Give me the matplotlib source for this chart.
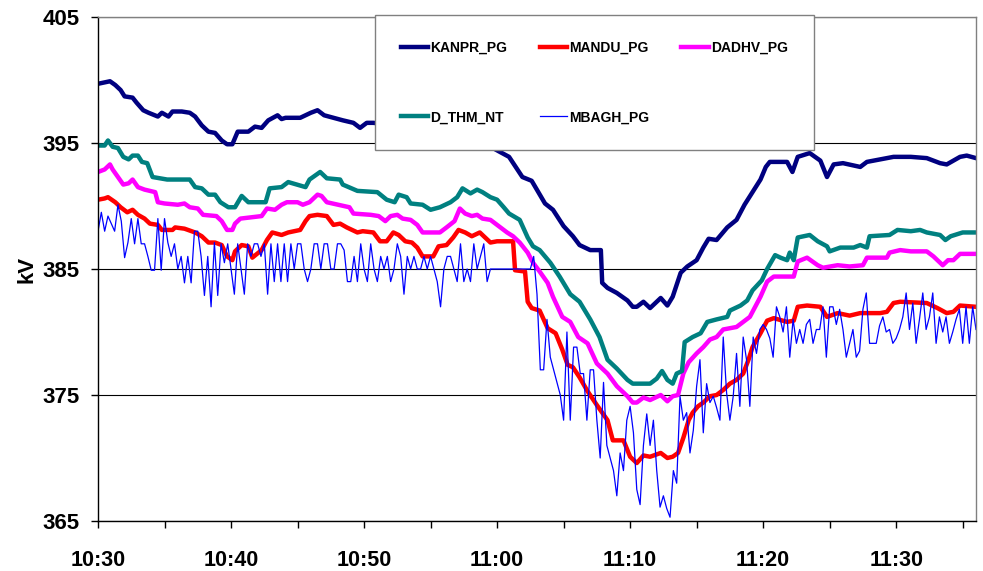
import numpy as np
import matplotlib
matplotlib.use('Agg')
import matplotlib.pyplot as plt
from matplotlib.ticker import FixedLocator, MultipleLocator, FuncFormatter

plt.rcParams['font.family'] = ['Liberation Sans', 'DejaVu Sans']
plt.rcParams['font.weight'] = 'bold'

# time in minutes after 10:30
kanpr_t = [0.0, 0.9, 1.3, 1.7, 2.0, 2.6, 2.9, 3.4, 3.8, 4.5, 4.8, 5.3, 5.6, 6.3, 6.9,
           7.3, 7.8, 8.3, 8.8, 9.3, 9.7, 10.1, 10.5, 11.3, 11.8, 12.3, 12.8, 13.5, 13.8,
           14.1, 15.2, 16.0, 16.5, 17.0, 17.7, 18.4, 19.2, 19.7, 20.2, 20.7, 23.0, 26.0,
           29.0, 30.2, 30.9, 31.9, 32.6, 33.6, 34.2, 35.0, 35.7, 36.2, 37.0, 37.8, 37.9,
           38.3, 39.0, 39.8, 40.2, 40.5, 41.0, 41.5, 42.3, 42.8, 43.2, 43.8, 44.3, 45.0,
           45.5, 45.9, 46.5, 47.3, 48.0, 48.6, 49.2, 49.8, 50.2, 50.5, 51.8, 52.2, 52.6,
           53.5, 54.3, 54.8, 55.3, 56.0, 57.3, 57.8, 59.8, 61.1, 62.3, 63.3, 63.8, 64.8,
           65.3, 66.0]
kanpr_v = [399.7, 399.9, 399.6, 399.2, 398.7, 398.6, 398.2, 397.6, 397.4, 397.1, 397.4,
           397.1, 397.5, 397.5, 397.4, 397.1, 396.4, 395.9, 395.8, 395.2, 394.9, 394.9,
           395.9, 395.9, 396.3, 396.2, 396.8, 397.2, 396.9, 397.0, 397.0, 397.4, 397.6,
           397.2, 397.0, 396.8, 396.6, 396.2, 396.6, 396.6, 396.3, 395.7, 395.0, 394.3,
           393.9, 392.3, 392.0, 390.2, 389.7, 388.4, 387.6, 386.9, 386.5, 386.5, 383.9,
           383.5, 383.1, 382.5, 382.0, 382.0, 382.4, 381.9, 382.7, 382.1, 382.8, 384.7,
           385.2, 385.7, 386.7, 387.4, 387.3, 388.3, 388.9, 390.1, 391.1, 392.1, 393.1,
           393.5, 393.5, 392.7, 393.9, 394.2, 393.6, 392.3, 393.3, 393.4, 393.1, 393.5,
           393.9, 393.9, 393.8, 393.4, 393.3, 393.9, 394.0, 393.8]

mandu_t = [0.0, 0.5, 0.75, 1.3, 1.7, 2.2, 2.6, 3.0, 3.5, 3.9, 4.5, 4.8, 5.6, 5.8, 6.5,
           7.3, 7.8, 8.3, 8.8, 9.3, 9.7, 10.1, 10.3, 10.8, 11.3, 11.6, 12.3, 12.7, 13.1,
           13.8, 14.3, 15.2, 15.6, 15.9, 16.5, 17.2, 17.7, 18.2, 18.7, 19.5, 19.9, 20.7,
           21.2, 21.7, 22.2, 22.6, 23.1, 23.6, 24.0, 24.4, 25.2, 25.6, 26.2, 26.7, 27.1,
           27.6, 28.1, 28.7, 29.1, 29.5, 30.0, 31.2, 31.35, 32.1, 32.3, 32.6, 33.2, 33.8,
           34.4, 34.9, 35.3, 35.7, 36.2, 36.8, 37.5, 38.3, 38.7, 39.5, 40.0, 40.5, 41.0,
           41.5, 42.3, 42.8, 43.2, 43.6, 44.0, 44.4, 44.7, 45.1, 45.5, 46.0, 46.5, 47.0,
           47.5, 48.0, 48.5, 48.9, 49.2, 49.8, 50.3, 50.8, 51.8, 52.3, 52.6, 53.3, 54.3,
           54.8, 55.6, 56.5, 57.3, 58.8, 59.3, 59.8, 60.3, 62.3, 63.1, 63.8, 64.3, 64.8,
           66.0]
mandu_v = [390.5, 390.6, 390.7, 390.3, 389.9, 389.5, 389.7, 389.3, 389.0, 388.6, 388.5,
           388.1, 388.1, 388.3, 388.2, 387.9, 387.6, 387.1, 387.1, 386.9, 386.0, 385.7,
           386.4, 386.9, 386.8, 385.9, 386.5, 387.3, 387.9, 387.7, 387.9, 388.1, 388.8,
           389.2, 389.3, 389.2, 388.5, 388.6, 388.3, 387.9, 388.0, 387.9, 387.2, 387.2,
           387.9, 387.7, 387.2, 387.1, 386.7, 386.0, 386.0, 386.8, 386.9, 387.5, 388.1,
           387.9, 387.6, 387.9, 387.5, 387.1, 387.2, 387.2, 384.9, 384.8, 382.4, 381.9,
           381.7, 380.3, 379.9, 378.6, 377.4, 377.2, 376.4, 375.3, 374.2, 373.0, 371.4,
           371.4, 370.1, 369.6, 370.2, 370.1, 370.4, 370.0, 370.1, 370.4, 371.6, 373.0,
           373.6, 374.1, 374.4, 374.9, 375.0, 375.4, 375.9, 376.2, 376.7, 377.8, 378.8,
           379.9, 380.9, 381.1, 380.8, 380.9, 382.0, 382.1, 382.0, 381.2, 381.5, 381.3,
           381.5, 381.5, 381.6, 382.3, 382.4, 382.3, 381.9, 381.5, 381.6, 382.1, 382.0]

dadhv_t = [0.0, 0.5, 0.9, 1.1, 1.5, 1.9, 2.3, 2.6, 3.0, 3.5, 4.3, 4.5, 5.0, 6.0, 6.5,
           6.9, 7.5, 7.9, 8.9, 9.3, 9.7, 10.1, 10.3, 10.7, 12.3, 12.7, 13.3, 13.8, 14.2,
           15.0, 15.4, 15.9, 16.5, 16.8, 17.2, 18.9, 19.2, 20.5, 21.1, 21.6, 22.0, 22.5,
           22.9, 23.5, 24.0, 24.4, 25.7, 26.2, 26.8, 27.2, 27.6, 28.1, 28.5, 28.9, 29.5,
           30.0, 30.75, 31.2, 31.7, 32.3, 32.7, 33.2, 33.8, 34.2, 34.9, 35.5, 36.1, 36.8,
           37.5, 38.3, 39.0, 39.8, 40.2, 40.5, 41.0, 41.5, 42.3, 42.8, 43.2, 43.6, 44.0,
           44.4, 45.0, 45.5, 46.0, 46.5, 47.0, 48.0, 48.5, 49.0, 49.4, 49.8, 50.3, 50.8,
           52.3, 52.6, 53.3, 54.1, 54.5, 55.6, 56.5, 57.5, 57.8, 59.3, 59.5, 60.3, 61.1,
           62.3, 62.8, 63.5, 63.9, 64.3, 64.8, 66.0]
dadhv_v = [392.7, 392.9, 393.3, 392.9, 392.3, 391.7, 391.8, 392.1, 391.5, 391.3, 391.1,
           390.3, 390.2, 390.1, 390.2, 389.9, 389.8, 389.3, 389.2, 388.8, 388.1, 388.1,
           388.6, 389.0, 389.2, 389.8, 389.7, 390.1, 390.3, 390.3, 390.1, 390.3, 390.9,
           390.8, 390.3, 389.9, 389.4, 389.3, 389.2, 388.8, 389.2, 389.3, 389.0, 388.9,
           388.5, 387.9, 387.9, 388.3, 388.8, 389.8, 389.4, 389.2, 389.3, 389.0, 388.9,
           388.5, 387.9, 387.6, 387.1, 386.3, 385.5, 384.8, 383.9, 382.8, 381.2, 380.8,
           379.6, 379.1, 377.5, 376.7, 375.7, 374.9, 374.4, 374.4, 374.8, 374.6, 375.0,
           374.5, 374.9, 375.0, 376.7, 377.6, 378.3, 378.8, 379.4, 379.6, 380.2, 380.4,
           380.8, 381.2, 382.0, 382.8, 384.0, 384.4, 384.4, 385.6, 385.9, 385.3, 385.1,
           385.3, 385.2, 385.3, 385.9, 385.9, 386.3, 386.5, 386.4, 386.4, 386.0, 385.3,
           385.7, 385.7, 386.2, 386.2]

dthm_t = [0.0, 0.5, 0.75, 1.1, 1.5, 1.9, 2.3, 2.6, 3.0, 3.3, 3.7, 4.1, 5.2, 6.9, 7.3,
          7.8, 8.3, 8.8, 9.2, 9.8, 10.3, 10.8, 11.3, 12.6, 12.9, 13.8, 14.3, 15.6, 15.9,
          16.7, 17.2, 18.2, 18.4, 19.5, 21.0, 21.7, 22.3, 22.6, 23.2, 23.5, 24.4, 25.0,
          25.7, 26.5, 27.0, 27.4, 28.0, 28.5, 28.9, 29.5, 30.0, 30.5, 30.9, 31.7, 32.3,
          32.7, 33.2, 34.0, 34.7, 35.5, 36.2, 37.0, 37.7, 38.3, 39.0, 39.8, 40.2, 41.5,
          42.0, 42.4, 42.8, 43.2, 43.5, 43.9, 44.1, 44.7, 45.3, 45.8, 46.5, 47.3, 47.5,
          48.3, 48.8, 49.2, 49.9, 50.3, 50.9, 51.3, 51.8, 52.0, 52.3, 52.6, 53.5, 54.1,
          54.8, 55.0, 55.8, 56.8, 57.3, 57.8, 58.0, 59.5, 60.1, 61.1, 61.8, 62.3, 63.3,
          63.7, 64.1, 65.0, 66.0]
dthm_v = [394.8, 394.8, 395.2, 394.7, 394.6, 393.9, 393.7, 394.0, 394.0, 393.5, 393.4,
          392.3, 392.1, 392.1, 391.5, 391.4, 390.9, 390.9, 390.3, 389.9, 389.9, 390.8,
          390.3, 390.3, 391.4, 391.5, 391.9, 391.5, 392.1, 392.7, 392.2, 392.1, 391.7,
          391.2, 391.1, 390.5, 390.3, 390.9, 390.7, 390.2, 390.1, 389.7, 389.9, 390.3,
          390.7, 391.4, 391.0, 391.3, 391.1, 390.7, 390.5, 389.9, 389.4, 388.9, 387.5,
          386.8, 386.5, 385.5, 384.4, 383.0, 382.4, 381.0, 379.6, 377.8, 377.1, 376.2,
          375.9, 375.9, 376.3, 376.9, 376.2, 375.9, 376.7, 376.9, 379.2, 379.6, 379.9,
          380.8, 381.0, 381.2, 381.7, 382.1, 382.5, 383.3, 384.1, 385.0, 386.1, 385.9,
          385.7, 386.3, 385.7, 387.5, 387.7, 387.2, 386.8, 386.4, 386.7, 386.7, 386.9,
          386.7, 387.6, 387.7, 388.1, 388.0, 388.1, 387.9, 387.7, 387.3, 387.6, 387.9,
          387.9]

# MBAGH_PG sampled every 15 s from 10:30
mbagh_step = 0.25
mbagh_v = [
    388.0, 389.5, 388.0, 389.2, 388.6, 388.0, 390.1, 388.8, 385.9, 387.1, 389.0, 387.0,
    389.0, 387.0, 387.0, 386.0, 384.9, 384.9, 389.0, 384.9, 389.0,
    387.1, 386.0, 387.0, 385.0, 386.0, 383.9, 386.0, 383.9, 388.0, 388.0, 386.0, 382.9,
    386.0, 382.0, 387.1, 382.9, 387.0, 385.5, 387.0, 385.0,
    383.0, 387.0, 385.0, 383.0, 387.0, 386.0, 387.0, 387.0, 386.0, 387.0, 383.0, 387.0,
    384.0, 387.0, 384.0, 387.0, 384.0, 387.0, 385.0, 387.0,
    387.0, 385.0, 384.0, 385.0, 387.0, 387.0, 385.0, 387.0, 387.0, 385.0, 385.0, 387.0,
    387.0, 386.5, 384.0, 384.0, 386.0, 384.0, 387.0, 385.0,
    384.0, 387.0, 385.0, 384.0, 386.0, 385.0, 386.0, 384.0, 385.0, 387.0, 386.0, 383.0,
    386.0, 385.0, 386.0, 385.0, 385.0, 386.0, 385.0, 386.0,
    385.0, 384.0, 382.0, 385.0, 386.0, 386.0, 385.0, 384.0, 387.0, 384.0, 385.0, 384.0,
    387.0, 385.0, 386.0, 387.0, 384.0, 385.0, 385.0,
    385.0, 385.0, 385.0, 385.0, 385.0, 385.0, 385.0, 385.0, 385.0, 385.0, 385.0,
    386.0, 383.0, 377.0, 377.0, 381.0, 378.0, 377.0, 376.0, 375.0, 373.0, 380.0, 373.0,
    378.8, 378.8, 376.7, 376.7, 373.0, 377.0, 377.0, 373.0, 370.0, 376.0, 371.0, 370.0,
    369.0, 367.0, 370.4, 369.0, 373.0, 374.1, 372.0, 367.5, 366.3, 371.0, 373.5, 371.0,
    373.0, 369.0, 366.1, 367.0, 366.0, 365.3, 369.0, 368.0, 374.9, 373.0, 373.6, 370.4,
    372.2, 375.7, 377.8, 372.0, 375.9, 374.4, 374.9, 374.0, 373.0, 379.6, 375.2, 373.0,
    374.9, 378.3, 374.1, 379.6, 377.8, 374.1, 379.6, 378.3, 380.2, 380.6, 380.2, 379.5,
    378.0, 382.0, 381.2, 380.0, 382.0, 378.0, 381.0, 379.1, 380.2, 379.1, 380.6, 381.0,
    379.1, 380.2, 380.2, 382.0, 378.0, 382.0, 382.0, 380.6, 381.8, 380.2, 378.0, 379.1,
    380.2, 378.0, 378.5, 381.8, 383.1, 379.1, 379.1, 379.1, 380.5, 381.2, 380.0, 380.2,
    379.1, 379.5, 380.2, 381.2, 383.1, 380.2, 382.3, 379.1, 381.0, 383.1, 380.2, 381.2,
    383.1, 379.1, 381.2, 380.0, 381.2, 379.1, 380.0, 381.0, 381.8, 379.1, 382.0, 379.1,
    382.0, 380.2]
mbagh_t = np.arange(len(mbagh_v)) * mbagh_step

y_ticks = [365, 375, 385, 395, 405]

fig = plt.figure(figsize=(9.83, 5.71), dpi=100)
ax = fig.add_axes([98 / 983, 1 - 521 / 571, (976 - 98) / 983, (521 - 17) / 571])

l_kanpr, = ax.plot(kanpr_t, kanpr_v, color='#000080', lw=3.2, label='KANPR_PG')
l_mandu, = ax.plot(mandu_t, mandu_v, color='#FF0000', lw=3.2, label='MANDU_PG')
l_dadhv, = ax.plot(dadhv_t, dadhv_v, color='#FF00FF', lw=3.2, label='DADHV_PG')
l_dthm, = ax.plot(dthm_t, dthm_v, color='#008080', lw=3.2, label='D_THM_NT')
l_mbagh, = ax.plot(mbagh_t, mbagh_v, color='#0000FF', lw=0.9, label='MBAGH_PG')

ax.set_xlim(0, 66)
ax.set_ylim(365, 405)
ax.yaxis.set_major_locator(FixedLocator(y_ticks))
ax.xaxis.set_major_locator(MultipleLocator(5))


def fmt_time(x, pos):
    m = int(round(x))
    if m % 10:
        return ''
    return '%d:%02d' % (10 + (30 + m) // 60, (30 + m) % 60)


ax.xaxis.set_major_formatter(FuncFormatter(fmt_time))
ax.grid(axis='y', color='black', lw=0.8)
ax.set_axisbelow(True)
for s in ('top', 'right'):
    ax.spines[s].set_color('#808080')
    ax.spines[s].set_linewidth(1.0)
for s in ('left', 'bottom'):
    ax.spines[s].set_color('black')
    ax.spines[s].set_linewidth(1.0)

ax.tick_params(axis='y', length=5, width=1, pad=8, labelsize=16)
ax.tick_params(axis='x', length=5, width=1, pad=16, labelsize=15.5)
for lab in ax.get_xticklabels() + ax.get_yticklabels():
    lab.set_fontweight('bold')
ax.set_ylabel('kV', fontsize=16, fontweight='bold', labelpad=4)

handles = [l_kanpr, l_dthm, l_mandu, l_mbagh, l_dadhv]
leg = fig.legend(handles=handles, labels=[h.get_label() for h in handles],
                 loc='upper left', bbox_to_anchor=(375 / 983, 1 - 15 / 571),
                 ncol=3, fontsize=10, frameon=True, fancybox=False, framealpha=1.0,
                 handlelength=2.0, handletextpad=0.15, columnspacing=2.3,
                 labelspacing=4.0, borderpad=1.85, borderaxespad=0)
leg.get_frame().set_edgecolor('#808080')
leg.get_frame().set_linewidth(1.0)
for txt in leg.get_texts():
    txt.set_fontweight('bold')

fig.savefig('out.png', dpi=100)
